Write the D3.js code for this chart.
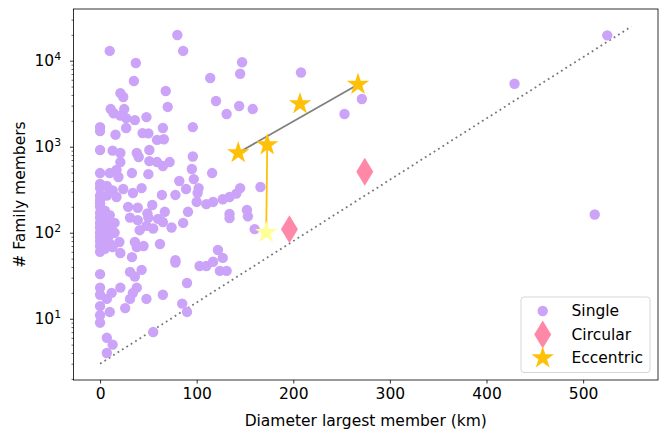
<!DOCTYPE html>
<html>
<head>
<meta charset="utf-8">
<script src="https://cdn.jsdelivr.net/npm/d3@7"></script>
<style>
  body { margin: 0; background: #fff; }
  text { font-family: "DejaVu Sans", sans-serif; fill: #000; }
</style>
</head>
<body>
<svg id="chart" width="660" height="430"></svg>
<script>
// [diameter km, family members]
const singles = [
  [10,13000],[80,19900],[86,13000],[37,9400],[35,5800],[68,4440],[21,4200],[24,3780],
  [114,6300],[120,3400],[147,9600],[145,7060],[208,7300],[131,2400],[144,2970],[158,2740],
  [11,2740],[25,2740],[14,2450],[21,2300],[27,2150],[36,2040],[0,1690],[0,1520],[16,1380],
  [27,1650],[48,2210],[44,1440],[50,1430],[70,2900],[65,1650],[59,1200],[66,1220],[96,1690],
  [0,916],[13,900],[21,845],[51,916],[38,845],[40,760],[96,770],[51,680],[59,663],[65,597],
  [72,663],[21,663],[0,494],[10,494],[17,536],[19,444],[33,494],[50,480],[95,550],[97,420],
  [116,494],[82,399],[89,322],[102,330],[101,290],[145,330],[166,340],[0,370],[0,330],
  [0,270],[0,240],[7,350],[13,310],[7,270],[24,322],[43,330],[17,260],[34,290],[64,275],
  [78,275],[100,228],[110,215],[117,228],[127,245],[134,260],[141,285],[152,184],[134,165],
  [91,175],[67,175],[29,200],[39,195],[49,168],[54,210],[0,220],[0,200],[0,170],[0,150],
  [0,130],[0,115],[0,100],[0,90],[0,80],[0,70],[0,60],[5,180],[5,140],[5,110],[5,85],[5,65],
  [10,160],[10,120],[10,95],[10,75],[15,130],[15,100],[20,78],[13,68],[21,58],[33,52],
  [36,78],[38,68],[45,70],[41,107],[48,120],[55,112],[31,150],[39,140],[50,150],[60,145],
  [65,133],[134,148],[153,155],[160,110],[62,74],[74,115],[86,130],[78,48],[78,45],[103,41],
  [110,41],[117,46],[122,63],[127,51],[124,36],[131,36],[0,33],[0,23],[0,19],[0,14],[0,11],
  [0,9],[10,12],[7,17],[12,20],[21,23],[31,35],[36,31],[43,37],[38,23],[34,20],[31,17],
  [26,13.3],[48,17],[65,19],[85,15],[90,12],[90,26],[55,7],[7,6],[13,5],[7,4],
  [253,2400],[271,3590],[429,5390],[525,19700],[512,163]
];
const circular = [[196,110],[274,510]];
const eccentric = [[143,850],[173,1050],[207,3150],[267,5300]];
const eccentricLow = [172,100];
const ratioLine = [[0,3],[550,25000]];
const xTicks = [0,100,200,300,400,500];
const yTicks = [10,100,1000,10000];
const legendLabels = ["Single","Circular","Eccentric"];

const colSingle = "#cba3f8", colCirc = "#ff88a8", colEcc = "#ffc107", colLow = "#ffff99";
const fs = "15.5px";

const svg = d3.select("#chart");
const x = d3.scaleLinear().domain([-27.5, 577.5]).range([73.5, 658]);
const y = d3.scaleLog().domain([1.94, 39900]).range([380, 9]);

const starPath = (R) => {
  const pts = [];
  for (let i = 0; i < 10; i++) {
    const r = i % 2 ? R * 0.382 : R;
    const a = -Math.PI / 2 + i * Math.PI / 5;
    pts.push([r * Math.cos(a), r * Math.sin(a)]);
  }
  return "M" + pts.map(p => p.join(",")).join("L") + "Z";
};
const diamondPath = (h, w) => `M0,${-h}L${w},0L0,${h}L${-w},0Z`;

const plot = svg.append("g");

// reference line
plot.append("line")
  .attr("x1", x(ratioLine[0][0])).attr("y1", y(ratioLine[0][1]))
  .attr("x2", x(ratioLine[1][0])).attr("y2", y(ratioLine[1][1]))
  .attr("stroke", "#777").attr("stroke-width", 1.8)
  .attr("stroke-dasharray", "1.8,3.4");

plot.append("g").selectAll("circle")
  .data(singles).enter().append("circle")
  .attr("cx", d => x(d[0])).attr("cy", d => y(d[1]))
  .attr("r", 5.2).attr("fill", colSingle);

// link between eccentric families
plot.append("line")
  .attr("x1", x(eccentric[0][0])).attr("y1", y(eccentric[0][1]))
  .attr("x2", x(eccentric[3][0])).attr("y2", y(eccentric[3][1]))
  .attr("stroke", "#808080").attr("stroke-width", 1.8);

plot.append("line")
  .attr("x1", x(eccentric[1][0])).attr("y1", y(eccentric[1][1]))
  .attr("x2", x(eccentricLow[0])).attr("y2", y(eccentricLow[1]))
  .attr("stroke", colEcc).attr("stroke-width", 1.8);

plot.append("g").selectAll("path")
  .data(circular).enter().append("path")
  .attr("d", diamondPath(14, 8.5))
  .attr("transform", d => `translate(${x(d[0])},${y(d[1])})`)
  .attr("fill", colCirc);

plot.append("g").selectAll("path")
  .data(eccentric).enter().append("path")
  .attr("d", starPath(11.8))
  .attr("transform", d => `translate(${x(d[0])},${y(d[1])})`)
  .attr("fill", colEcc);

plot.append("path")
  .attr("d", starPath(11.8))
  .attr("transform", `translate(${x(eccentricLow[0])},${y(eccentricLow[1])})`)
  .attr("fill", colLow);

// axes
const xAxis = svg.append("g")
  .attr("transform", "translate(0,380)")
  .call(d3.axisBottom(x).tickValues(xTicks).tickSize(3.5).tickPadding(4).tickFormat(d3.format("d")));
xAxis.select(".domain").remove();
xAxis.selectAll("text").style("font-size", fs);
xAxis.selectAll("line").attr("stroke", "#000").attr("stroke-width", 0.8);

const minors = [];
for (let e = 0; e <= 4; e++) for (let m = 2; m <= 9; m++) {
  const v = m * Math.pow(10, e);
  if (v >= 1.94 && v <= 39900) minors.push(v);
}
const yMinor = svg.append("g").attr("transform", "translate(73.5,0)")
  .call(d3.axisLeft(y).tickValues(minors).tickSize(2).tickFormat(""));
yMinor.select(".domain").remove();
yMinor.selectAll("line").attr("stroke", "#000").attr("stroke-width", 0.6);

const yAxis = svg.append("g").attr("transform", "translate(73.5,0)")
  .call(d3.axisLeft(y).tickValues(yTicks).tickSize(3.5).tickFormat(""));
yAxis.select(".domain").remove();
yAxis.selectAll("line").attr("stroke", "#000").attr("stroke-width", 0.8);

const yLab = svg.append("g").selectAll("text")
  .data(yTicks).enter().append("text")
  .attr("x", 61).attr("y", d => y(d)).attr("dy", "0.36em")
  .attr("text-anchor", "end").style("font-size", fs);
yLab.append("tspan").text("10");
yLab.append("tspan").attr("dy", "-0.55em").style("font-size", "10.8px")
  .text(d => Math.round(Math.log10(d)));

svg.append("rect")
  .attr("x", 73.5).attr("y", 9).attr("width", 658 - 73.5).attr("height", 380 - 9)
  .attr("fill", "none").attr("stroke", "#000").attr("stroke-width", 0.8);

svg.append("text")
  .attr("x", (73.5 + 658) / 2).attr("y", 421).attr("dy", "0.35em")
  .attr("text-anchor", "middle").style("font-size", fs)
  .text("Diameter largest member (km)");

svg.append("text")
  .attr("transform", `translate(20,${(9 + 380) / 2}) rotate(-90)`)
  .attr("dy", "0.35em").attr("text-anchor", "middle").style("font-size", fs)
  .text("# Family members");

// legend
const lg = svg.append("g");
lg.append("rect")
  .attr("x", 521).attr("y", 297).attr("width", 129).attr("height", 75.5)
  .attr("rx", 3).attr("fill", "#fff").attr("fill-opacity", 0.8)
  .attr("stroke", "#d6d6d6").attr("stroke-width", 1);
const rowY = [311, 334.5, 358];
lg.append("circle").attr("cx", 542.7).attr("cy", rowY[0]).attr("r", 5.2).attr("fill", colSingle);
lg.append("path").attr("d", diamondPath(14, 8.5))
  .attr("transform", `translate(542.7,${rowY[1]})`).attr("fill", colCirc);
lg.append("path").attr("d", starPath(11.8))
  .attr("transform", `translate(542.7,${rowY[2]})`).attr("fill", colEcc);
lg.selectAll("text.lbl").data(legendLabels).enter().append("text")
  .attr("class", "lbl")
  .attr("x", 571.5).attr("y", (d, i) => rowY[i]).attr("dy", "0.35em")
  .style("font-size", fs).text(d => d);
</script>
</body>
</html>
